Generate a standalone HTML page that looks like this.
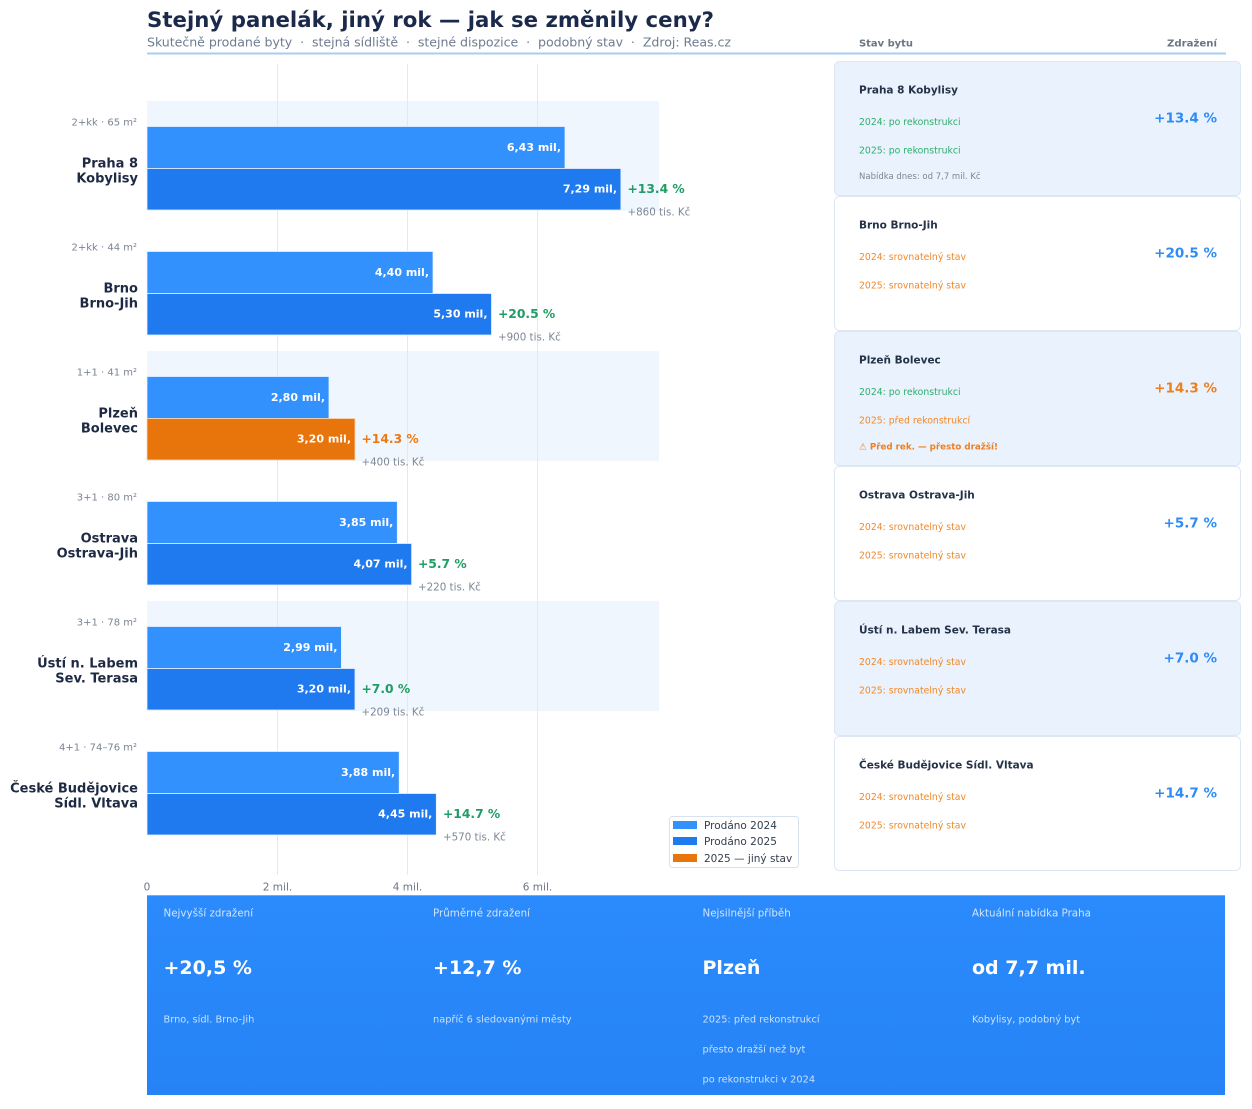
<!DOCTYPE html>
<html><head><meta charset="utf-8"><style>
html,body{margin:0;padding:0;background:#fff;}
svg{display:block;font-family:"DejaVu Sans","Liberation Sans",sans-serif;}
</style></head><body>
<svg width="1252" height="1109" viewBox="0 0 1252 1109" xmlns="http://www.w3.org/2000/svg">
<defs>
<linearGradient id="pg" x1="0" y1="0" x2="0" y2="1"><stop offset="0" stop-color="#2b8afc"/><stop offset="1" stop-color="#2583f5"/></linearGradient>
</defs>
<rect width="1252" height="1109" fill="#fff"/>
<!-- title -->
<text x="147" y="27" font-size="21.5" font-weight="bold" fill="#1b2a4a" textLength="567" lengthAdjust="spacingAndGlyphs">Stejný panelák, jiný rok — jak se změnily ceny?</text>
<text x="147" y="46.5" font-size="12.6" fill="#6e7c91" xml:space="preserve" textLength="584" lengthAdjust="spacing">Skutečně prodané byty  ·  stejná sídliště  ·  stejné dispozice  ·  podobný stav  ·  Zdroj: Reas.cz</text>
<line x1="147" y1="53.5" x2="1226" y2="53.5" stroke="#a9ccf6" stroke-width="2"/>
<text x="859" y="46.3" font-size="10" font-weight="bold" fill="#6b7685" textLength="54" lengthAdjust="spacingAndGlyphs">Stav bytu</text>
<text x="1217" y="46.3" font-size="10" font-weight="bold" fill="#6b7685" text-anchor="end" textLength="50" lengthAdjust="spacingAndGlyphs">Zdražení</text>

<!-- bands -->
<rect x="147" y="101" width="512" height="110" fill="#f0f6fe"/>
<rect x="147" y="351" width="512" height="110" fill="#f0f6fe"/>
<rect x="147" y="601" width="512" height="110" fill="#f0f6fe"/>
<!-- grid -->
<g stroke="#e1e9f3" stroke-width="1">
<line x1="277.5" y1="64" x2="277.5" y2="875"/>
<line x1="407.5" y1="64" x2="407.5" y2="875"/>
<line x1="537.5" y1="64" x2="537.5" y2="875"/>
</g>

<!-- left labels -->
<g font-size="10" fill="#7b8494" text-anchor="end">
<text x="137" y="125.6">2+kk · 65 m²</text>
<text x="137" y="250.6">2+kk · 44 m²</text>
<text x="137" y="375.6">1+1 · 41 m²</text>
<text x="137" y="500.6">3+1 · 80 m²</text>
<text x="137" y="625.6">3+1 · 78 m²</text>
<text x="137" y="750.6">4+1 · 74–76 m²</text>
</g>
<g font-size="13" font-weight="bold" fill="#1e2a44" text-anchor="end">
<text x="138" y="167.5">Praha 8</text><text x="138" y="182.5">Kobylisy</text>
<text x="138" y="292.5">Brno</text><text x="138" y="307.5">Brno-Jih</text>
<text x="138" y="417.5">Plzeň</text><text x="138" y="432.5">Bolevec</text>
<text x="138" y="542.5">Ostrava</text><text x="138" y="557.5">Ostrava-Jih</text>
<text x="138" y="667.5">Ústí n. Labem</text><text x="138" y="682.5">Sev. Terasa</text>
<text x="138" y="792.5">České Budějovice</text><text x="138" y="807.5">Sídl. Vltava</text>
</g>

<!-- bars -->
<g stroke="#e6f0ff" stroke-width="0.8">
<rect x="147" y="126.5" width="418" height="42" fill="#3391fe"/>
<rect x="147" y="168.5" width="473.9" height="41.5" fill="#1f7af0"/>
<rect x="147" y="251.5" width="286" height="42" fill="#3391fe"/>
<rect x="147" y="293.5" width="344.5" height="41.5" fill="#1f7af0"/>
<rect x="147" y="376.5" width="182" height="42" fill="#3391fe"/>
<rect x="147" y="418.5" width="208" height="41.5" fill="#e8740c" stroke="#f7d6b8"/>
<rect x="147" y="501.5" width="250.3" height="42" fill="#3391fe"/>
<rect x="147" y="543.5" width="264.6" height="41.5" fill="#1f7af0"/>
<rect x="147" y="626.5" width="194.4" height="42" fill="#3391fe"/>
<rect x="147" y="668.5" width="208" height="41.5" fill="#1f7af0"/>
<rect x="147" y="751.5" width="252.2" height="42" fill="#3391fe"/>
<rect x="147" y="793.5" width="289.3" height="41.5" fill="#1f7af0"/>
</g>
<g font-size="11" font-weight="bold" fill="#fff" text-anchor="end">
<text x="561" y="151">6,43 mil,</text><text x="617" y="192.5">7,29 mil,</text>
<text x="429" y="276">4,40 mil,</text><text x="487.5" y="317.5">5,30 mil,</text>
<text x="325" y="401">2,80 mil,</text><text x="351" y="442.5">3,20 mil,</text>
<text x="393.3" y="526">3,85 mil,</text><text x="407.6" y="567.5">4,07 mil,</text>
<text x="337.4" y="651">2,99 mil,</text><text x="351" y="692.5">3,20 mil,</text>
<text x="395.2" y="776">3,88 mil,</text><text x="432.3" y="817.5">4,45 mil,</text>
</g>
<g font-size="12.3" font-weight="bold" fill="#1f9d64">
<text x="627.5" y="193">+13.4 %</text>
<text x="498" y="318">+20.5 %</text>
<text x="361.5" y="443" fill="#ec7a14">+14.3 %</text>
<text x="418" y="568">+5.7 %</text>
<text x="361.5" y="693">+7.0 %</text>
<text x="443" y="818">+14.7 %</text>
</g>
<g font-size="10.3" fill="#7d8797">
<text x="627.5" y="215.7">+860 tis. Kč</text>
<text x="498" y="340.7">+900 tis. Kč</text>
<text x="361.5" y="465.7">+400 tis. Kč</text>
<text x="418" y="590.7">+220 tis. Kč</text>
<text x="361.5" y="715.7">+209 tis. Kč</text>
<text x="443" y="840.7">+570 tis. Kč</text>
</g>

<!-- axis -->
<g font-size="10.5" fill="#6b7685" text-anchor="middle">
<text x="147" y="890.5">0</text>
<text x="277.5" y="890.5">2 mil.</text>
<text x="407.5" y="890.5">4 mil.</text>
<text x="537.5" y="890.5">6 mil.</text>
</g>

<!-- legend -->
<rect x="669.5" y="816.5" width="129" height="51" rx="3" fill="#fff" stroke="#d8e2ef"/>
<rect x="673" y="821" width="24" height="8" fill="#3391fe"/>
<rect x="673" y="837" width="24" height="8" fill="#1f7af0"/>
<rect x="673" y="854" width="24" height="8" fill="#e8740c"/>
<g font-size="10.5" fill="#333d4d">
<text x="704" y="828.8">Prodáno 2024</text>
<text x="704" y="844.8">Prodáno 2025</text>
<text x="704" y="861.8">2025 — jiný stav</text>
</g>

<!-- cards -->
<g stroke="#dde7f3" stroke-width="1">
<rect x="834.5" y="61.5" width="406" height="134" rx="5" fill="#eaf2fd"/>
<rect x="834.5" y="196.5" width="406" height="134" rx="5" fill="#fff"/>
<rect x="834.5" y="331.5" width="406" height="134" rx="5" fill="#eaf2fd"/>
<rect x="834.5" y="466.5" width="406" height="134" rx="5" fill="#fff"/>
<rect x="834.5" y="601.5" width="406" height="134" rx="5" fill="#eaf2fd"/>
<rect x="834.5" y="736.5" width="406" height="134" rx="5" fill="#fff"/>
</g>
<g font-size="10.5" font-weight="bold" fill="#253349">
<text x="859" y="93.5">Praha 8 Kobylisy</text>
<text x="859" y="228.5">Brno Brno-Jih</text>
<text x="859" y="363.5">Plzeň Bolevec</text>
<text x="859" y="498.5">Ostrava Ostrava-Jih</text>
<text x="859" y="633.5">Ústí n. Labem Sev. Terasa</text>
<text x="859" y="768.5">České Budějovice Sídl. Vltava</text>
</g>
<g font-size="9.3">
<text x="859" y="125" fill="#2fae6e">2024: po rekonstrukci</text>
<text x="859" y="153.3" fill="#2fae6e">2025: po rekonstrukci</text>
<text x="859" y="179" font-size="8.5" fill="#7c8594">Nabídka dnes: od 7,7 mil. Kč</text>
<text x="859" y="260" fill="#f0892a">2024: srovnatelný stav</text>
<text x="859" y="288.3" fill="#f0892a">2025: srovnatelný stav</text>
<text x="859" y="395" fill="#2fae6e">2024: po rekonstrukci</text>
<text x="859" y="423.3" fill="#f0892a">2025: před rekonstrukcí</text>
<text x="859" y="449.5" font-size="9" font-weight="bold" fill="#ee7f1e" textLength="139" lengthAdjust="spacingAndGlyphs">⚠ Před rek. — přesto dražší!</text>
<text x="859" y="530" fill="#f0892a">2024: srovnatelný stav</text>
<text x="859" y="558.3" fill="#f0892a">2025: srovnatelný stav</text>
<text x="859" y="665" fill="#f0892a">2024: srovnatelný stav</text>
<text x="859" y="693.3" fill="#f0892a">2025: srovnatelný stav</text>
<text x="859" y="800" fill="#f0892a">2024: srovnatelný stav</text>
<text x="859" y="828.3" fill="#f0892a">2025: srovnatelný stav</text>
</g>
<g font-size="13.5" font-weight="bold" fill="#2e8bf7" text-anchor="end">
<text x="1217" y="122.5">+13.4 %</text>
<text x="1217" y="257.5">+20.5 %</text>
<text x="1217" y="392.5" fill="#ee7f1e">+14.3 %</text>
<text x="1217" y="527.5">+5.7 %</text>
<text x="1217" y="662.5">+7.0 %</text>
<text x="1217" y="797.5">+14.7 %</text>
</g>

<!-- bottom panel -->
<rect x="147" y="895" width="1078" height="200" fill="url(#pg)"/>
<line x1="147" y1="895.5" x2="1225" y2="895.5" stroke="#6aaeff" stroke-width="1"/>
<g font-size="10.3" fill="#ffffff" fill-opacity="0.78">
<text x="163.5" y="916.7">Nejvyšší zdražení</text>
<text x="433" y="916.7">Průměrné zdražení</text>
<text x="702.5" y="916.7">Nejsilnější příběh</text>
<text x="972" y="916.7">Aktuální nabídka Praha</text>
</g>
<g font-size="19" font-weight="bold" fill="#ffffff">
<text x="163.5" y="974">+20,5 %</text>
<text x="433" y="974">+12,7 %</text>
<text x="702.5" y="974">Plzeň</text>
<text x="972" y="974">od 7,7 mil.</text>
</g>
<g font-size="9.8" fill="#ffffff" fill-opacity="0.75">
<text x="163.5" y="1022.6">Brno, sídl. Brno-Jih</text>
<text x="433" y="1022.6">napříč 6 sledovanými městy</text>
<text x="702.5" y="1022.6">2025: před rekonstrukcí</text>
<text x="702.5" y="1052.6">přesto dražší než byt</text>
<text x="702.5" y="1082.6">po rekonstrukci v 2024</text>
<text x="972" y="1022.6">Kobylisy, podobný byt</text>
</g>
</svg>
</body></html>
